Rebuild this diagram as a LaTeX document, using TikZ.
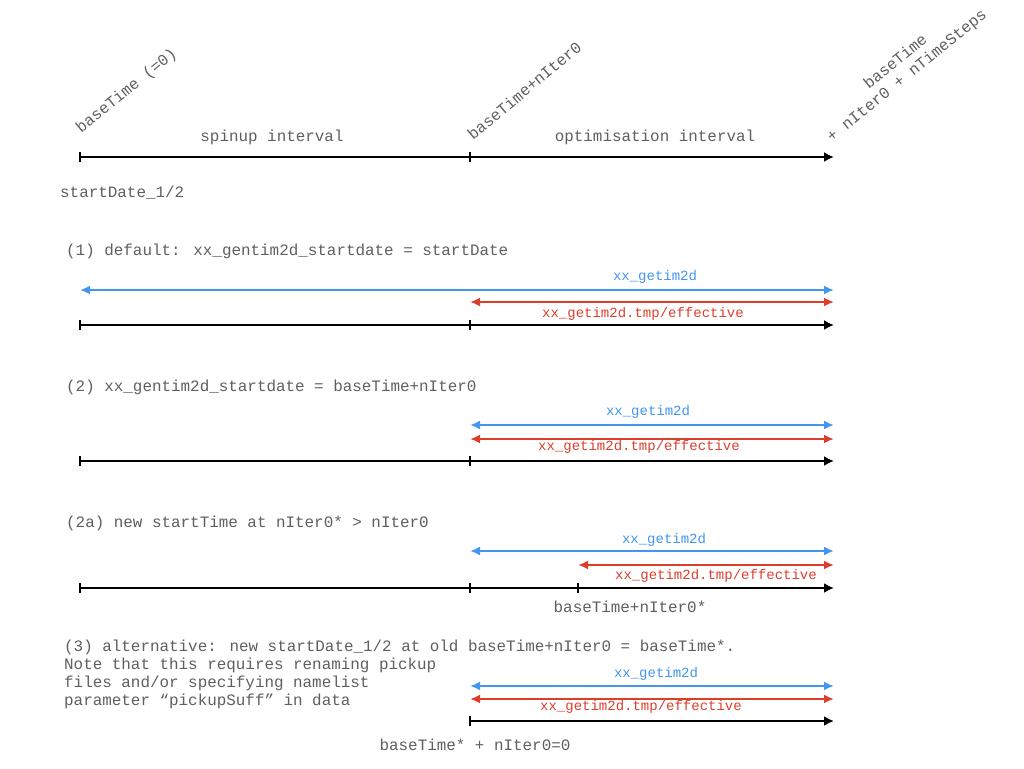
\documentclass[tikz,border=0pt]{standalone}
\usepackage{fontspec}
\setmainfont{Liberation Mono}
\usetikzlibrary{arrows.meta}
\definecolor{txt}{RGB}{95,95,95}
\definecolor{bl}{RGB}{66,150,240}
\definecolor{rd}{RGB}{221,62,44}
\begin{document}
\begin{tikzpicture}[x=1pt,y=-1pt,
  lbl/.style={inner sep=0pt, text=txt, font=\fontsize{15.9}{18}\selectfont},
  small/.style={inner sep=0pt, font=\fontsize{14}{16}\selectfont},
  axis/.style={line width=2.4pt, -{Latex[length=10pt,width=10pt]}},
  tickmark/.style={line width=1.8pt},
  dbl/.style={line width=2.4pt, {Latex[length=10pt,width=9pt]}-{Latex[length=10pt,width=9pt]}},
]
\useasboundingbox (0,0) rectangle (1024,768);

% ---------- top time line ----------
\coordinate (t0) at (80,157);
\coordinate (t1) at (470,157);
\coordinate (t2) at (834,157);
\draw[axis] (t0) -- (t2);
\draw[tickmark] (t0) ++(0,-5) -- ++(0,10);
\draw[tickmark] (t1) ++(0,-5) -- ++(0,10);
\node[lbl, rotate=39, anchor=base west] (lb0) at (81,134) {baseTime (=0)};
\node[lbl, rotate=40, anchor=base west] (lb1) at (473,141) {baseTime+nIter0};
\node[lbl, rotate=39, anchor=south west, align=center] (lb2) at (834,145) {baseTime\\+ nIter0 + nTimeSteps};
\node[lbl, anchor=base] (sp) at (272,141) {spinup interval};
\node[lbl, anchor=base] (op) at (655,141) {optimisation interval};
\node[lbl, anchor=base west] (sd) at (60,197) {startDate\_1/2};

% ---------- (1) ----------
\node[lbl, anchor=base west] (h1) at (66,255) {(1) default: xx\_gentim2d\_startdate = startDate};
\coordinate (b1l) at (80,290);  \coordinate (b1r) at (834,290);
\draw[dbl, color=bl] (b1l) -- (b1r);
\node[small, text=bl, anchor=base] (b1t) at (655,280) {xx\_getim2d};
\coordinate (r1l) at (470,302); \coordinate (r1r) at (834,302);
\draw[dbl, color=rd] (r1l) -- (r1r);
\node[small, text=rd, anchor=base] (r1t) at (643,317) {xx\_getim2d.tmp/effective};
\coordinate (k1a) at (80,325); \coordinate (k1b) at (470,325); \coordinate (k1c) at (834,325);
\draw[axis] (k1a) -- (k1c);
\draw[tickmark] (k1a) ++(0,-5) -- ++(0,10);
\draw[tickmark] (k1b) ++(0,-5) -- ++(0,10);

% ---------- (2) ----------
\node[lbl, anchor=base west] (h2) at (66,391) {(2) xx\_gentim2d\_startdate = baseTime+nIter0};
\coordinate (b2l) at (470,425);  \coordinate (b2r) at (834,425);
\draw[dbl, color=bl] (b2l) -- (b2r);
\node[small, text=bl, anchor=base] (b2t) at (648,415) {xx\_getim2d};
\coordinate (r2l) at (470,439); \coordinate (r2r) at (834,439);
\draw[dbl, color=rd] (r2l) -- (r2r);
\node[small, text=rd, anchor=base] (r2t) at (639,450) {xx\_getim2d.tmp/effective};
\coordinate (k2a) at (80,461); \coordinate (k2b) at (470,461); \coordinate (k2c) at (834,461);
\draw[axis] (k2a) -- (k2c);
\draw[tickmark] (k2a) ++(0,-5) -- ++(0,10);
\draw[tickmark] (k2b) ++(0,-5) -- ++(0,10);

% ---------- (2a) ----------
\node[lbl, anchor=base west] (h3) at (66,527) {(2a) new startTime at nIter0* > nIter0};
\coordinate (b3l) at (470,551);  \coordinate (b3r) at (834,551);
\draw[dbl, color=bl] (b3l) -- (b3r);
\node[small, text=bl, anchor=base] (b3t) at (664,543) {xx\_getim2d};
\coordinate (r3l) at (578,565); \coordinate (r3r) at (834,565);
\draw[dbl, color=rd] (r3l) -- (r3r);
\node[small, text=rd, anchor=base] (r3t) at (716,579) {xx\_getim2d.tmp/effective};
\coordinate (k3a) at (80,588); \coordinate (k3b) at (470,588); \coordinate (k3s) at (578,588); \coordinate (k3c) at (834,588);
\draw[axis] (k3a) -- (k3c);
\draw[tickmark] (k3a) ++(0,-5) -- ++(0,10);
\draw[tickmark] (k3b) ++(0,-5) -- ++(0,10);
\draw[tickmark] (k3s) ++(0,-5) -- ++(0,10);
\node[lbl, anchor=base] (k3t) at (630,612) {baseTime+nIter0*};

% ---------- (3) ----------
\node[lbl, anchor=base west] (h4) at (64,651) {(3) alternative: new startDate\_1/2 at old baseTime+nIter0 = baseTime*.};
\node[lbl, anchor=base west] (h4b) at (64,669) {Note that this requires renaming pickup};
\node[lbl, anchor=base west] (h4c) at (64,687) {files and/or specifying namelist};
\node[lbl, anchor=base west] (h4d) at (64,705) {parameter “pickupSuff” in data};
\coordinate (b4l) at (470,686);  \coordinate (b4r) at (834,686);
\draw[dbl, color=bl] (b4l) -- (b4r);
\node[small, text=bl, anchor=base] (b4t) at (656,677) {xx\_getim2d};
\coordinate (r4l) at (470,699); \coordinate (r4r) at (834,699);
\draw[dbl, color=rd] (r4l) -- (r4r);
\node[small, text=rd, anchor=base] (r4t) at (641,710) {xx\_getim2d.tmp/effective};
\coordinate (k4a) at (470,721); \coordinate (k4c) at (834,721);
\draw[axis] (k4a) -- (k4c);
\draw[tickmark] (k4a) ++(0,-5) -- ++(0,10);
\node[lbl, anchor=base] (k4t) at (475,750) {baseTime* + nIter0=0};
\end{tikzpicture}
\end{document}
